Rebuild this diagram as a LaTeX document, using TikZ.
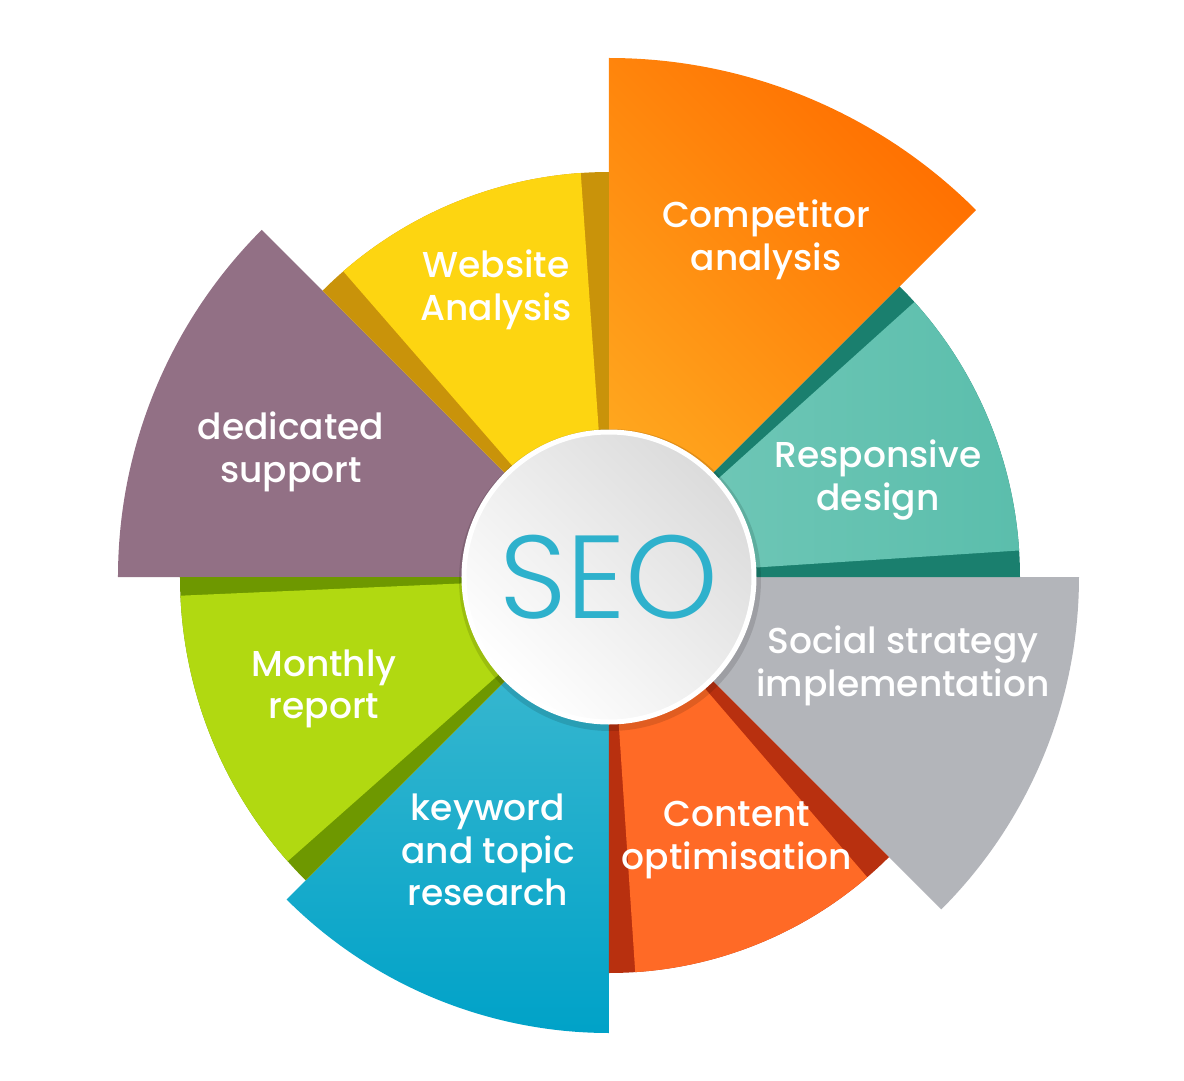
\documentclass[tikz,border=0pt]{standalone}
\usepackage{fontspec}
\IfFontExistsTF{Poppins Medium}{\setmainfont{Poppins Medium}}{\setmainfont{Poppins}}
\IfFontExistsTF{Poppins Light}{\newfontfamily\seofont{Poppins Light}}{\newfontfamily\seofont{Poppins}}
\usepackage{tikz}
\definecolor{compTop}{HTML}{FF6F00}
\definecolor{compLow}{HTML}{FFA81F}
\definecolor{webLight}{HTML}{FDD511}
\definecolor{webDark}{HTML}{C9930A}
\definecolor{dedic}{HTML}{927085}
\definecolor{monLight}{HTML}{B1D911}
\definecolor{monDark}{HTML}{6E9800}
\definecolor{keyTop}{HTML}{45BCD1}
\definecolor{keyLow}{HTML}{00A2C8}
\definecolor{contLight}{HTML}{FF6A26}
\definecolor{contDark}{HTML}{B8300F}
\definecolor{social}{HTML}{B3B5BA}
\definecolor{respLeft}{HTML}{74C9B9}
\definecolor{respRight}{HTML}{5BBEAC}
\definecolor{respDark}{HTML}{1A7F6E}
\definecolor{seoText}{HTML}{2EB1CC}
\tikzstyle{lbl}=[text=white, align=center, inner sep=0pt, font=\fontsize{36}{42.5}\selectfont]
\tikzstyle{hub}=[circle, minimum size=290pt, inner sep=0pt, draw=white, line width=5pt, shade, top color=black!14, bottom color=white, shading angle=-45, text=seoText, font=\seofont\fontsize{118}{118}\selectfont]

\begin{document}
\begin{tikzpicture}[x=1pt, y=1pt]
	\useasboundingbox (-609,-503) rectangle (575,577);
	\fill[white] (-609,-503) rectangle (575,577);
	% large sectors
	\shade[top color=compTop, bottom color=compLow, shading angle=-45] (0,0) -- (45:519) arc[start angle=45, end angle=90, radius=519] -- cycle;
	\fill[dedic] (0,0) -- (135:491) arc[start angle=135, end angle=180, radius=491] -- cycle;
	\shade[top color=keyTop, bottom color=keyLow] (0,0) -- (225:456) arc[start angle=225, end angle=270, radius=456] -- cycle;
	\fill[social] (0,0) -- (315:470) arc[start angle=315, end angle=360, radius=470] -- cycle;
	% small sectors with dark edges
	\fill[webDark] (0,0) -- (90:405) arc[start angle=90, end angle=135, radius=405] -- cycle;
	\fill[webLight] (0,0) -- (94:405) arc[start angle=94, end angle=131, radius=405] -- cycle;
	\fill[monDark] (0,0) -- (180:429) arc[start angle=180, end angle=225, radius=429] -- cycle;
	\fill[monLight] (0,0) -- (182.5:429) arc[start angle=182.5, end angle=221.5, radius=429] -- cycle;
	\fill[contDark] (0,0) -- (270:396) arc[start angle=270, end angle=315, radius=396] -- cycle;
	\fill[contLight] (0,0) -- (273.8:396) arc[start angle=273.8, end angle=310.7, radius=396] -- cycle;
	\fill[respDark] (0,0) -- (0:411) arc[start angle=0, end angle=45, radius=411] -- cycle;
	\shade[left color=respLeft, right color=respRight] (0,0) -- (3.7:411) arc[start angle=3.7, end angle=42, radius=411] -- cycle;
	% centre
	\fill[black, opacity=0.12] (1,-3) circle[radius=151];
	\draw (0,0) node[hub] (seo) {SEO};
	% labels
	\draw (157,337) node[lbl] (comp) {Competitor\\analysis};
	\draw (-113,287) node[lbl] (web) {Website\\Analysis};
	\draw (269,97) node[lbl] (resp) {Responsive\\design};
	\draw (-318,125) node[lbl] (ded) {dedicated\\support};
	\draw (294,-89) node[lbl] (soc) {Social strategy\\implementation};
	\draw (-285,-112) node[lbl] (mon) {Monthly\\report};
	\draw (128,-263) node[lbl] (cont) {Content\\optimisation};
	\draw (-121,-273) node[lbl] (key) {keyword\\and topic\\research};
\end{tikzpicture}
\end{document}
